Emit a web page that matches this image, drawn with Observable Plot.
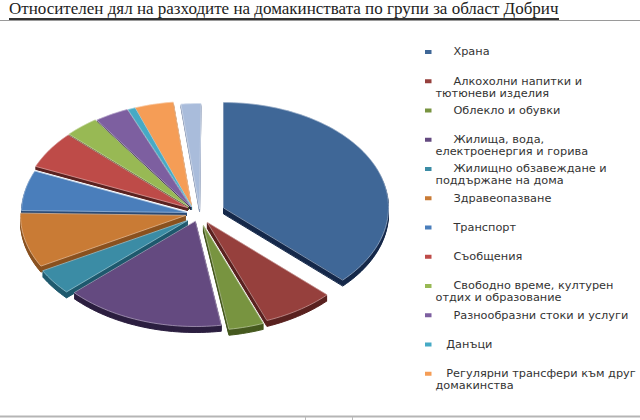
<!DOCTYPE html>
<html lang="bg">
<head>
<meta charset="utf-8">
<script src="https://cdn.jsdelivr.net/npm/d3@7"></script>
<script src="https://cdn.jsdelivr.net/npm/@observablehq/plot@0.6"></script>
<style>
html,body{margin:0;padding:0;background:#fff;width:640px;height:420px;overflow:hidden}
#title{box-sizing:border-box;height:21px;border-bottom:1px solid #9a9a9a;padding:0 0 0 9px;font:17px/17px "Liberation Serif",serif;color:#222;white-space:nowrap}
#title span{border-bottom:2px solid #333;display:inline-block;height:18px;padding-top:0}
svg{display:block}
</style>
</head>
<body>
<div id="title"><span>Относителен дял на разходите на домакинствата по групи за област Добрич</span></div>
<div id="chart"></div>
<script>
const categories = ["Храна","Алкохолни напитки и тютюневи изделия","Облекло и обувки","Жилища, вода, електроенергия и горива","Жилищно обзавеждане и поддържане на дома","Здравеопазване","Транспорт","Съобщения","Свободно време, културен отдих и образование","Разнообразни стоки и услуги","Данъци","Регулярни трансфери към други домакинства","Други"];
const shares = [37.1,7.0,3.4,15.6,3.9,8.3,6.1,5.7,3.3,3.3,0.7,3.8,1.9];
const colors = ["#3f6797","#96403d","#789440","#644a80","#3b8ca5","#c97b35","#4a7ebb","#be4b48","#98b954","#7d5fa0","#46aac5","#f59d56","#a9bcdb"];
const sides  = ["#16294a","#5a2220","#46591f","#2c1f40","#1f5a6e","#8a5220","#2a4a75","#5a2220","#3c4d1c","#2c1f40","#277086","#a8682f","#8c9ab5"];

const legendLines = [["Храна"],["Алкохолни напитки и","тютюневи изделия"],["Облекло и обувки"],["Жилища, вода,","електроенергия и горива"],["Жилищно обзавеждане и","поддържане на дома"],["Здравеопазване"],["Транспорт"],["Съобщения"],["Свободно време, културен","отдих и образование"],["Разнообразни стоки и услуги"],["Данъци"],["Регулярни трансфери към друг","домакинства"]];
const legendIndent = [5,5,5,5,5,5,5,5,5,5,3,3];

const apexX = [223,207,203,195,187,185,186,187,188,190,191,191,199];
const apexY = [207,222,225,221,220,215,212,207,206,206,206,206,208];
const radX = 165, radY = 105, depth = 6, titleH = 21, svgH = 399;

let acc = 0;
const slices = shares.map((s,i)=>{
  const a0 = acc/100*2*Math.PI; acc += s;
  const a1 = acc/100*2*Math.PI;
  const n = Math.max(2,Math.ceil((a1-a0)/0.03));
  const pts = [{x:apexX[i],y:apexY[i]}];
  for(let k=0;k<=n;k++){
    const t = a0+(a1-a0)*k/n;
    pts.push({x:apexX[i]+radX*Math.sin(t),y:apexY[i]-radY*Math.cos(t)});
  }
  return {pts,i};
});

const marks = [];
[12,11,10,9,8,7,6,5,4,0,1,2,3].forEach(i=>{
  const pts = slices[i].pts;
  const d = (i<=5)?depth:3;
  for(let dy=d;dy>=1;dy--){
    marks.push(Plot.line(pts,{x:"x",y:p=>p.y+dy,curve:"linear-closed",fill:sides[i],stroke:sides[i],strokeWidth:1}));
  }
  marks.push(Plot.line(pts,{x:"x",y:"y",curve:"linear-closed",fill:colors[i],stroke:d3.interpolateRgb(colors[i],"#fff")(0.45),strokeWidth:0.8}));
});

const rows = legendLines.map((lines,i)=>({
  c:colors[i], row:i,
  label:"\u00a0".repeat(legendIndent[i])+lines.join("\n")
}));
const rowY = r=>52+r*29.25;
marks.push(Plot.rect(rows,{x1:()=>425,x2:()=>431.5,y1:d=>rowY(d.row)-2,y2:d=>rowY(d.row)+2,fill:"c"}));
marks.push(Plot.text(rows,{x:()=>435,y:d=>rowY(d.row)-5.5,text:"label",textAnchor:"start",fill:"#333",fontSize:11.3,fontFamily:"'DejaVu Sans'",lineAnchor:"top",lineHeight:1.05}));
marks.push(Plot.ruleY([416],{stroke:"#b5b5b5",strokeWidth:2}));
marks.push(Plot.ruleX([305,352],{y1:417,y2:420,stroke:"#bbb"}));

const plot = Plot.plot({
  width:640,height:svgH,margin:0,
  x:{domain:[0,640],range:[0,640],axis:null},
  y:{domain:[titleH,titleH+svgH],range:[0,svgH],axis:null},
  style:{background:"#fff"},
  marks
});
document.getElementById("chart").append(plot);
</script>
</body>
</html>
